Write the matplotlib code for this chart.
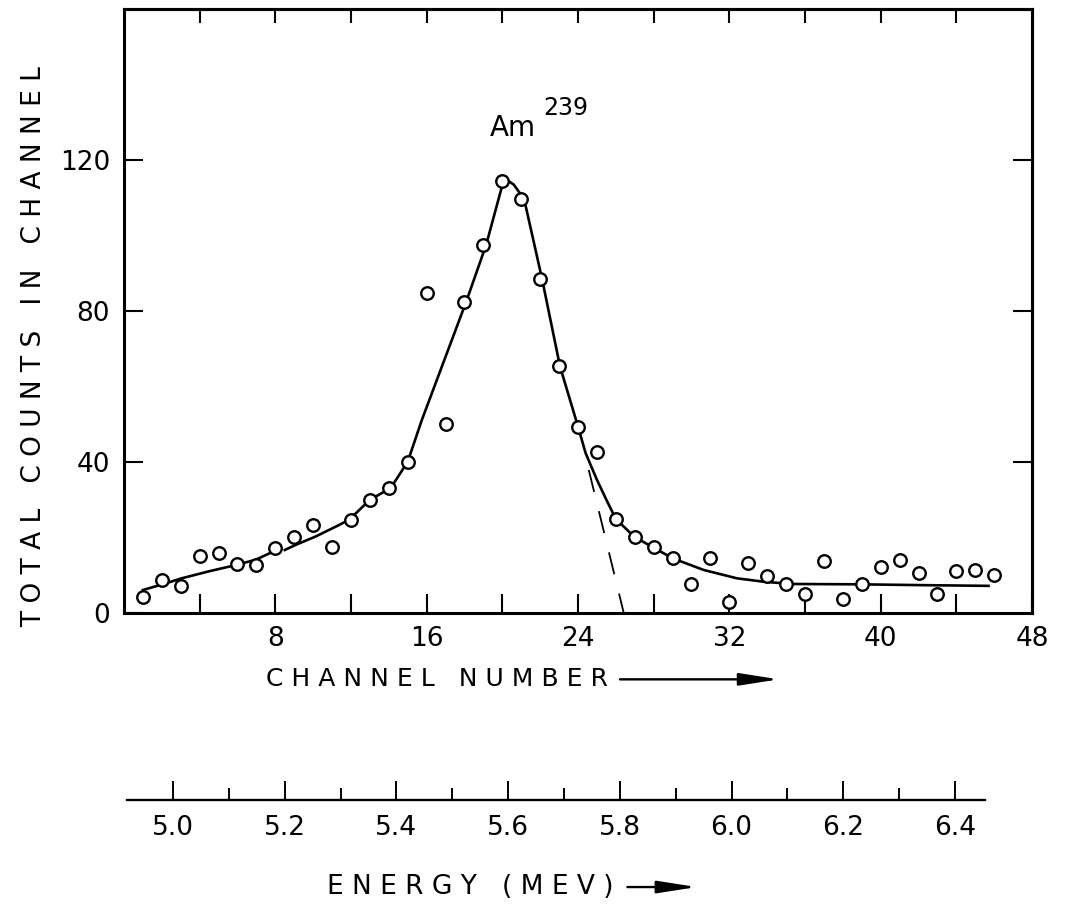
import numpy as np
import matplotlib
matplotlib.use('Agg')
import matplotlib.pyplot as plt

# measured counts per channel (open circles)
channels = np.arange(1, 47)
counts = [4.3, 8.8, 7.2, 15.1, 15.8, 13.0, 12.7, 17.2, 20.1, 23.2,
          17.4, 24.7, 30.0, 33.1, 40.1, 84.8, 50.2, 82.4, 97.6, 114.4,
          109.7, 88.5, 65.5, 49.4, 42.6, 24.8, 20.1, 17.4, 14.5, 7.7,
          14.5, 3.0, 13.3, 9.8, 7.7, 5.0, 13.9, 3.7, 7.6, 12.3,
          14.1, 10.5, 5.0, 11.1, 11.4, 10.0]

# hand drawn fit curve (nan = small break in the line)
curve_ch = [1.0, 2.1, 3.05, 4.45, 5.9, 6.95, 7.9, np.nan, 8.5, 9.05,
            10.1, 11.2, 11.9, 13.0, 14.1, 15.0, 15.75, 18.1, 19.15, 20.1,
            20.6, 21.15, 22.1, 23.05, 24.0, 24.4, 25.0, 25.5, 26.0, 27.0,
            27.9, 29.0, 30.65, 32.4, 33.8, 35.3, 39.0, 42.0, 45.7]
curve_counts = [6.1, 7.7, 9.2, 11.0, 12.7, 14.1, 16.3, np.nan, 16.7, 18.0,
                20.2, 22.9, 24.7, 30.0, 33.1, 40.1, 51.2, 82.6, 97.6, 115.2,
                113.5, 109.7, 88.5, 65.3, 49.4, 42.4, 35.3, 30.0, 24.9, 20.1,
                17.6, 14.5, 11.4, 9.2, 8.3, 7.7, 7.6, 7.4, 7.2]

# dashed extrapolation of the peak
dash_ch = [24.57, 26.42]
dash_counts = [37.9, 0.0]

x_major = [8, 16, 24, 32, 40, 48]
x_minor = [4, 12, 20, 28, 36, 44]
top_ticks = [4, 8, 12, 16, 20, 24, 28, 32, 36, 40, 44]
y_ticks = [0, 40, 80, 120]
y_right = [40, 80, 120]

energy_major = [5.0, 5.2, 5.4, 5.6, 5.8, 6.0, 6.2, 6.4]
energy_minor = [5.1, 5.3, 5.5, 5.7, 5.9, 6.1, 6.3]

plt.rcParams['font.family'] = ['DejaVu Sans']

fig = plt.figure(figsize=(10.67, 9.07), dpi=100)
ax = fig.add_axes([0.1162, 0.3241, 0.851, 0.666])

ax.plot(curve_ch, curve_counts, color='black', lw=1.9, zorder=2)
ax.plot(dash_ch, dash_counts, color='black', lw=1.3, dashes=(12.5, 11), zorder=2)
ax.plot(channels, counts, 'o', ms=9, mfc='white', mec='black', mew=1.7, zorder=3)

ax.set_xlim(0, 48)
ax.set_ylim(0, 160)
for s in ax.spines.values():
    s.set_linewidth(2.2)

ax.set_xticks(x_major)
ax.set_xticks(x_minor, minor=True)
ax.tick_params(axis='x', which='both', direction='in', length=14, width=1.5,
               top=False, labelsize=19, pad=9)
ax.set_yticks(y_ticks)
ax.tick_params(axis='y', direction='in', length=14, width=1.5,
               right=False, labelsize=19, pad=10)

top = ax.secondary_xaxis('top')
top.set_xticks(top_ticks)
top.set_xticklabels([])
top.tick_params(direction='in', length=10, width=1.5)
top.spines['top'].set_linewidth(2.2)

right = ax.secondary_yaxis('right')
right.set_yticks(y_right)
right.set_yticklabels([])
right.tick_params(direction='in', length=14, width=1.5)
right.spines['right'].set_linewidth(2.2)

ax.text(19.35, 128.6, 'Am', fontsize=20, ha='left', va='center')
ax.text(22.15, 133.8, '239', fontsize=17, ha='left', va='center')

# energy scale below the plot
eax = fig.add_axes([127 / 1067, 1 - 800 / 907, 858 / 1067, 0.001])
eax.patch.set_visible(False)
for side in ['left', 'right', 'top']:
    eax.spines[side].set_visible(False)
eax.spines['bottom'].set_linewidth(1.7)
eax.set_xlim(4.9177, 6.4537)
eax.set_yticks([])
eax.set_xticks(energy_major)
eax.set_xticklabels([f'{e:.1f}' for e in energy_major])
eax.set_xticks(energy_minor, minor=True)
eax.tick_params(axis='x', which='major', direction='in', length=14, width=1.4,
                labelsize=19, pad=11)
eax.tick_params(axis='x', which='minor', direction='in', length=9, width=1.4)

# axis titles, letter spaced like the original lettering
fig.text(0.032, 0.618, 'T O T A L   C O U N T S   I N   C H A N N E L',
         rotation=90, fontsize=19, ha='center', va='center')
fig.text(0.249, 0.251, 'C H A N N E L   N U M B E R', fontsize=18,
         ha='left', va='center')
fig.text(0.306, 0.022, 'E N E R G Y   ( M E V )', fontsize=19,
         ha='left', va='center')

arrow = dict(arrowstyle='-|>,head_length=1.6,head_width=0.25', lw=1.7,
             color='black', mutation_scale=15, shrinkA=0, shrinkB=0)
fig.add_artist(matplotlib.patches.FancyArrowPatch(
    (0.581, 0.251), (0.730, 0.251), transform=fig.transFigure, **arrow))
fig.add_artist(matplotlib.patches.FancyArrowPatch(
    (0.588, 0.022), (0.653, 0.022), transform=fig.transFigure, **arrow))

fig.savefig('out.png', dpi=100)
